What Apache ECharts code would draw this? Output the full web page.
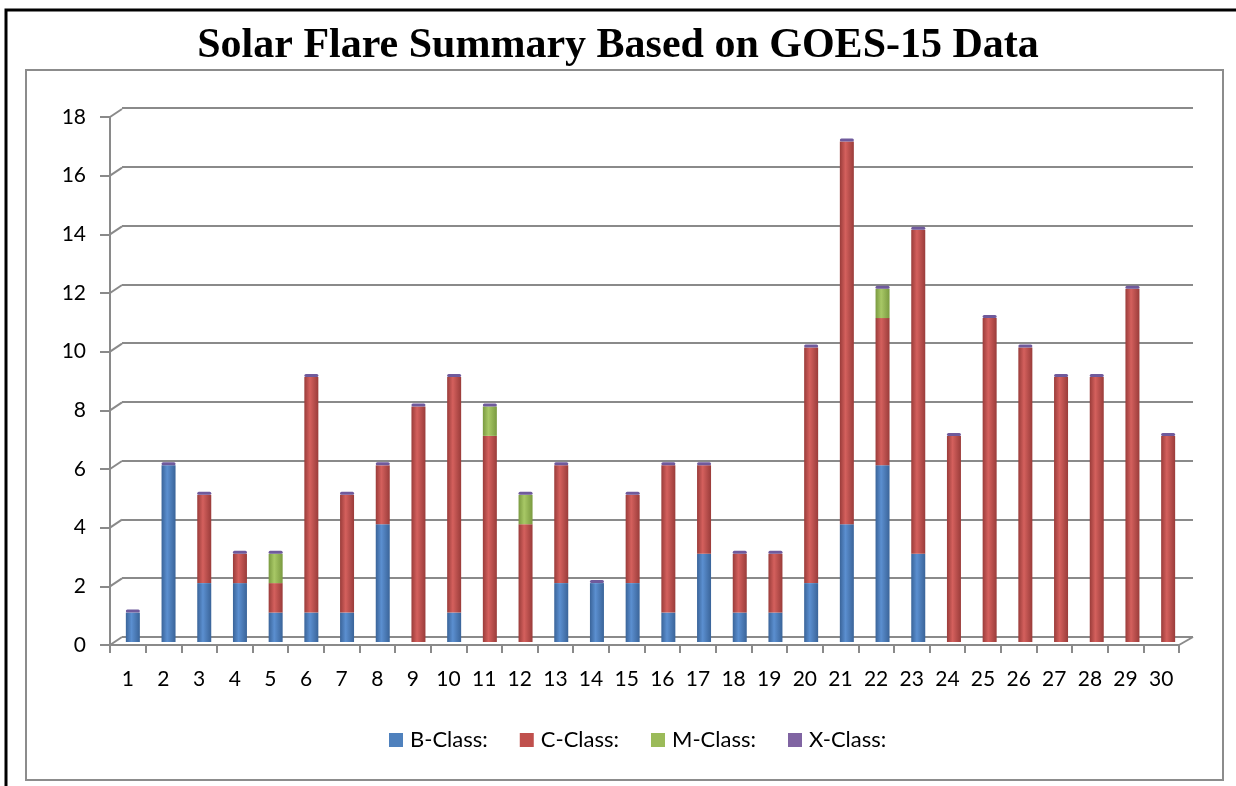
<!DOCTYPE html>
<html>
<head>
<meta charset="utf-8">
<title>Solar Flare Summary</title>
<script src="https://cdn.jsdelivr.net/npm/echarts@6/dist/echarts.min.js"></script>
<style>
  html, body { margin: 0; padding: 0; background: #fff; overflow: hidden; }
  #chart { width: 1236px; height: 786px; }
</style>
</head>
<body>
<div id="chart"></div>
<script>
// days of the month
const days = Array.from({ length: 30 }, (_, i) => String(i + 1))

// flare counts per day
const bClass = [1, 6, 2, 2, 1, 1, 1, 4, 0, 1, 0, 0, 2, 2, 2, 1, 3, 1, 1, 2, 4, 6, 3, 0, 0, 0, 0, 0, 0, 0]
const cClass = [0, 0, 3, 1, 1, 8, 4, 2, 8, 8, 7, 4, 4, 0, 3, 5, 3, 2, 2, 8, 13, 5, 11, 7, 11, 10, 9, 9, 12, 7]
const mClass = [0, 0, 0, 0, 1, 0, 0, 0, 0, 0, 1, 1, 0, 0, 0, 0, 0, 0, 0, 0, 0, 1, 0, 0, 0, 0, 0, 0, 0, 0]
const xClass = [0, 0, 0, 0, 0, 0, 0, 0, 0, 0, 0, 0, 0, 0, 0, 0, 0, 0, 0, 0, 0, 0, 0, 0, 0, 0, 0, 0, 0, 0]

const yTicks = [0, 2, 4, 6, 8, 10, 12, 14, 16, 18]

const chart = echarts.init(document.getElementById('chart'))

// cylinder-ish shading: dark edges, light centre
const cyl = (dark, light) => new echarts.graphic.LinearGradient(0, 0, 1, 0, [
  { offset: 0, color: dark },
  { offset: 0.4, color: light },
  { offset: 1, color: dark }
])

const gridColor = '#8a8a8a'
const labelFont = 'Lato, "Open Sans", sans-serif'

const barSeries = (name, data, dark, light, extra) => ({
  name,
  type: 'bar',
  stack: 'total',
  xAxisIndex: 0,
  yAxisIndex: 0,
  data,
  barWidth: 14,
  itemStyle: { color: cyl(dark, light) },
  emphasis: { disabled: true },
  ...extra
})

const option = {
  animation: false,
  title: {
    text: 'Solar Flare Summary Based on GOES-15 Data',
    left: 'center',
    top: 20,
    textStyle: {
      fontFamily: '"Liberation Serif", "Times New Roman", serif',
      fontWeight: 'bold',
      fontSize: 42,
      color: '#000'
    }
  },
  legend: {
    bottom: 30,
    left: 384,
    icon: 'rect',
    itemWidth: 14,
    itemHeight: 14,
    itemGap: 32,
    data: [
      { name: 'B-Class:', itemStyle: { color: '#4f81bd' } },
      { name: 'C-Class:', itemStyle: { color: '#c0504d' } },
      { name: 'M-Class:', itemStyle: { color: '#9bbb59' } },
      { name: 'X-Class:', itemStyle: { color: '#8064a2' } }
    ],
    textStyle: { fontFamily: labelFont, fontSize: 22, color: '#000', padding: [0, 0, 0, 2] }
  },
  graphic: [
    { type: 'rect', shape: { x: 6, y: 10, width: 1300, height: 800 }, style: { fill: 'none', stroke: '#000', lineWidth: 3 }, z: 0 },
    { type: 'rect', shape: { x: 26, y: 70, width: 1197, height: 710 }, style: { fill: 'none', stroke: '#8c8c8c', lineWidth: 2 }, z: 0 }
  ],
  grid: [
    // bars, sitting mid-depth
    { left: 115, right: 50, top: 112, height: 530 },
    // back wall
    { left: 122, right: 43, top: 108, height: 529 },
    // front axes
    { left: 110, right: 57, top: 117, height: 528 }
  ],
  xAxis: [
    { gridIndex: 0, type: 'category', data: days, show: false },
    { gridIndex: 1, type: 'category', data: days, show: false },
    {
      gridIndex: 2,
      type: 'category',
      data: days,
      axisLine: { lineStyle: { color: gridColor, width: 2 } },
      axisTick: { show: true, length: 8, lineStyle: { color: gridColor, width: 2 } },
      axisLabel: { margin: 24, fontFamily: labelFont, fontSize: 21, color: '#000' }
    }
  ],
  yAxis: [
    { gridIndex: 0, type: 'value', min: 0, max: 18, interval: 2, show: false },
    {
      gridIndex: 1, type: 'value', min: 0, max: 18, interval: 2,
      axisLine: { show: false }, axisTick: { show: false }, axisLabel: { show: false },
      splitLine: { lineStyle: { color: gridColor, width: 2 } }
    },
    {
      gridIndex: 2, type: 'value', min: 0, max: 18, interval: 2,
      axisLine: { show: true, lineStyle: { color: gridColor, width: 2 } },
      axisTick: { show: true, length: 10, lineStyle: { color: gridColor, width: 2 } },
      axisLabel: { margin: 24, fontFamily: labelFont, fontSize: 21, color: '#000' },
      splitLine: { show: false }
    }
  ],
  series: [
    barSeries('B-Class:', bClass, '#3a6499', '#5b8fd0'),
    barSeries('C-Class:', cClass, '#9a3c3a', '#d4605d'),
    barSeries('M-Class:', mClass, '#7a9a40', '#a8c866'),
    // X-class is zero every day; Excel still shows its purple cap on top
    barSeries('X-Class:', xClass, '#6a5090', '#8a70b0', {
      barMinHeight: 3,
      itemStyle: { color: '#6f5a9c', borderRadius: 7 }
    }),
    // 3D perspective links between front axis and back wall
    {
      type: 'custom',
      xAxisIndex: 2,
      yAxisIndex: 2,
      silent: true,
      data: yTicks,
      encode: { y: 0 },
      renderItem: (params, api) => {
        const cs = params.coordSys
        const y = api.coord([0, api.value(0)])[1]
        const lines = [{
          type: 'line',
          shape: { x1: cs.x, y1: y, x2: cs.x + 12, y2: y - 8 },
          style: { stroke: gridColor, lineWidth: 2 }
        }]
        if (api.value(0) === 0) {
          lines.push({
            type: 'line',
            shape: { x1: cs.x + cs.width, y1: y, x2: cs.x + cs.width + 14, y2: y - 8 },
            style: { stroke: gridColor, lineWidth: 2 }
          })
        }
        return { type: 'group', children: lines }
      }
    }
  ]
}

chart.setOption(option)
</script>
</body>
</html>
